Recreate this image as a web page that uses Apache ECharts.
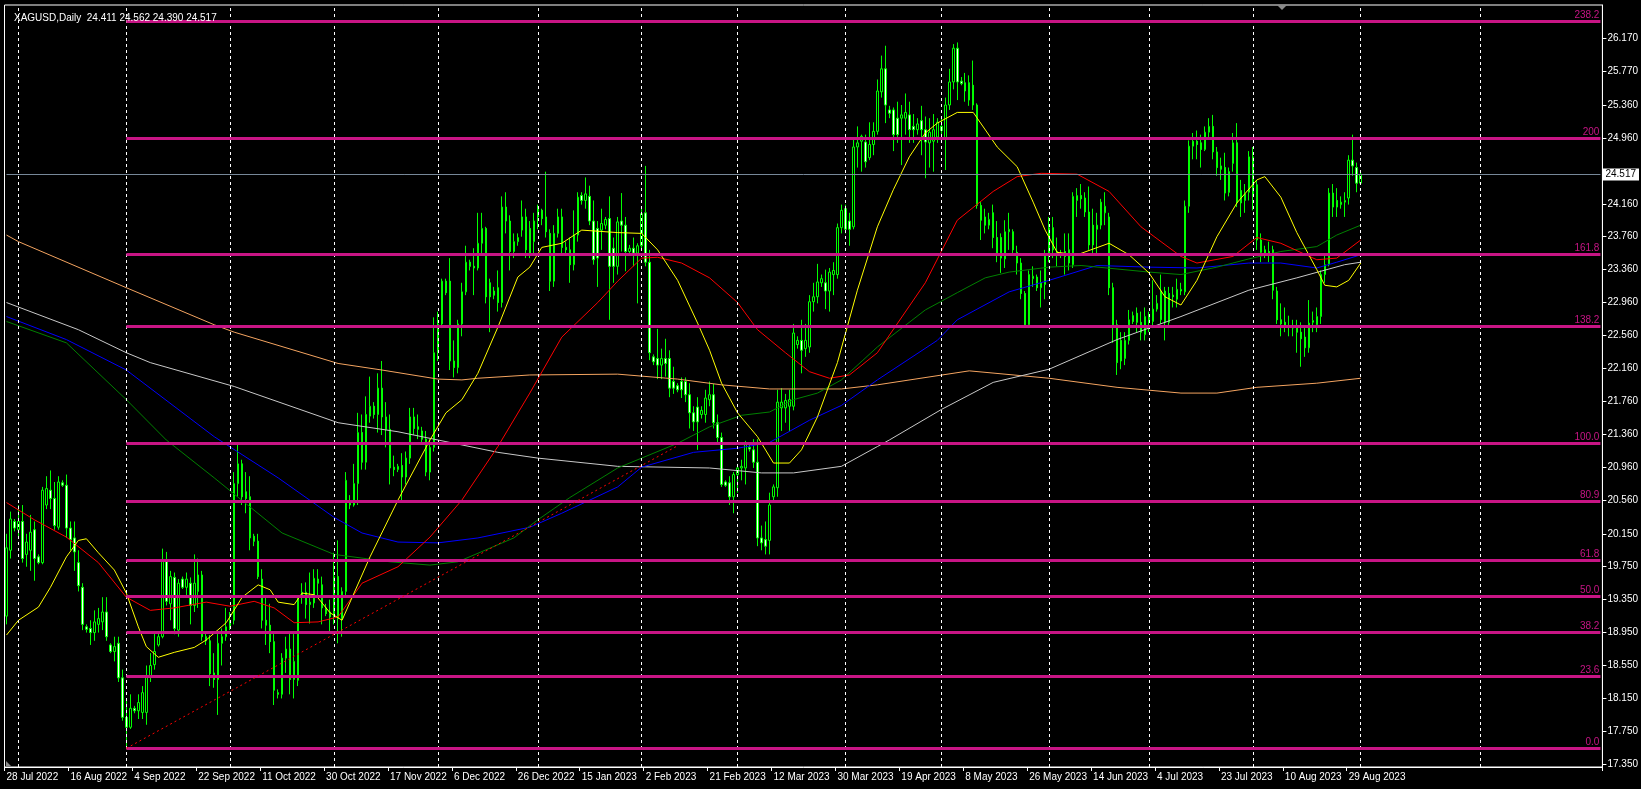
<!DOCTYPE html>
<html>
<head>
<meta charset="utf-8">
<title>XAGUSD,Daily</title>
<script src="https://cdn.jsdelivr.net/npm/echarts@6/dist/echarts.min.js"></script>
<style>
  html, body { margin: 0; padding: 0; background: #000; }
  #chart { width: 1641px; height: 789px; }
</style>
</head>
<body>
<div id="chart"></div>
<script>
// daily bars, [open, high, low, close], one per trading day (Sunday bars included)
const candles = [
  [19.15,20.15,19.05,19.98],[19.95,20.42,19.85,20.33],[20.30,20.33,20.18,20.22],[20.20,20.50,20.10,20.30],
  [20.30,20.50,19.80,19.85],[19.90,20.15,19.75,20.05],[19.95,20.38,19.70,20.17],[20.20,20.30,19.58,19.85],
  [19.87,19.90,19.78,19.80],[19.80,20.72,19.78,20.68],[20.50,20.85,20.45,20.70],[20.68,20.92,20.45,20.58],
  [20.58,20.78,20.20,20.25],[20.23,20.85,20.20,20.78],[20.77,20.80,20.72,20.74],[20.74,20.87,20.10,20.22],
  [20.22,20.30,19.95,20.08],[20.10,20.30,19.70,19.93],[19.80,19.95,19.45,19.52],[19.50,19.55,18.98,19.05],
  [19.02,19.05,18.95,18.99],[19.00,19.10,18.80,18.95],[18.95,19.22,18.85,19.08],[19.05,19.25,18.95,19.12],
  [19.08,19.38,18.98,19.20],[19.20,19.38,18.85,18.90],[18.80,18.82,18.70,18.72],[18.72,18.90,18.60,18.78],
  [18.82,18.90,18.35,18.40],[18.40,18.50,17.88,17.92],[17.92,18.15,17.545,17.80],[17.80,18.20,17.78,18.03],
  [18.03,18.06,17.97,18.00],[18.00,18.20,17.90,18.10],[17.98,18.30,17.90,18.22],[17.98,18.55,17.83,18.42],
  [18.42,18.70,18.35,18.55],[18.56,18.95,18.50,18.72],[18.80,18.95,18.78,18.90],[18.90,19.97,18.88,19.83],
  [19.83,19.93,19.28,19.33],[19.30,19.70,19.10,19.63],[19.62,19.68,18.93,19.00],[18.98,19.60,18.90,19.55],
  [19.60,19.63,19.48,19.50],[19.50,19.68,19.40,19.60],[19.55,19.62,19.05,19.28],[19.28,19.90,19.20,19.55],
  [19.45,19.85,19.25,19.65],[19.65,19.70,18.85,18.90],[18.90,18.95,18.80,18.85],[18.85,18.92,18.30,18.45],
  [18.46,18.70,18.28,18.38],[18.38,18.94,17.95,18.82],[18.82,19.00,18.55,18.90],[18.90,19.25,18.85,19.02],
  [19.00,19.20,18.98,19.10],[19.10,20.90,19.05,20.76],[20.76,21.25,20.60,21.00],[21.00,21.05,20.50,20.60],
  [20.66,20.90,20.40,20.58],[20.60,20.85,19.95,20.10],[20.12,20.15,20.00,20.06],[20.06,20.15,19.60,19.63],
  [19.60,19.72,19.00,19.10],[19.10,19.40,18.80,19.04],[19.04,19.30,18.70,18.84],[18.84,18.94,18.07,18.25],
  [18.22,18.26,18.15,18.20],[18.20,18.70,18.15,18.64],[18.64,18.90,18.46,18.75],[18.75,18.95,18.20,18.38],
  [18.38,18.95,18.15,18.60],[18.37,19.40,18.30,19.37],[19.40,19.55,19.30,19.44],[19.44,19.56,19.12,19.29],
  [19.29,19.68,19.06,19.32],[19.31,19.72,19.25,19.61],[19.60,19.72,19.40,19.55],[19.53,19.63,19.05,19.25],
  [19.25,19.30,19.15,19.18],[19.20,19.35,18.95,19.14],[19.14,19.92,19.05,19.63],[19.63,20.07,18.82,19.12],
  [19.12,19.50,18.90,19.45],[19.45,20.90,19.40,20.80],[20.55,20.62,20.45,20.50],[20.50,21.00,20.48,20.76],
  [20.76,21.62,20.50,21.38],[21.38,21.60,20.93,21.02],[21.02,21.82,20.93,21.60],[21.58,22.06,21.50,21.70],
  [21.70,21.75,21.55,21.60],[21.60,22.10,21.38,21.92],[21.92,22.25,21.35,21.57],[21.57,21.75,21.20,21.42],
  [21.42,21.60,20.75,20.95],[20.96,21.10,20.85,20.93],[20.93,21.00,20.90,20.97],[20.98,21.13,20.56,20.84],
  [20.84,21.15,20.75,21.07],[21.07,21.68,21.00,21.57],[21.57,21.68,21.35,21.43],[21.45,21.60,21.30,21.42],
  [21.40,21.45,21.25,21.30],[21.30,21.40,20.85,20.90],[20.90,21.30,20.80,21.20],[21.20,22.78,21.15,22.35],
  [22.35,22.85,22.25,22.70],[22.70,23.25,22.65,23.22],[23.22,23.25,23.05,23.08],[23.22,23.50,22.14,22.25],
  [22.25,22.50,22.05,22.17],[22.17,22.75,22.10,22.70],[22.70,23.20,22.55,23.09],[23.09,23.65,23.05,23.45],
  [23.45,23.48,23.35,23.40],[23.40,23.62,23.05,23.38],[23.38,24.05,23.35,23.68],[23.68,24.05,23.55,23.86],
  [23.86,23.88,22.95,23.03],[23.20,23.25,22.60,23.03],[23.10,23.15,23.00,23.05],[23.14,23.35,22.85,22.96],
  [22.96,24.25,22.90,24.12],[24.12,24.30,23.80,23.95],[23.95,24.02,23.35,23.58],[23.58,23.80,23.50,23.70],
  [23.70,23.80,23.65,23.75],[23.84,24.20,23.76,24.00],[24.00,24.10,23.50,23.60],[23.86,23.95,23.50,23.55],
  [23.70,24.05,23.55,23.95],[24.10,24.15,23.85,24.00],[24.08,24.10,23.90,23.98],[24.00,24.55,23.75,23.82],
  [23.80,23.85,23.10,23.22],[23.22,23.90,23.15,23.80],[23.80,24.10,23.75,24.00],[24.00,24.10,23.55,23.63],
  [23.63,23.70,23.55,23.60],[23.60,23.75,23.20,23.42],[23.42,24.08,23.35,23.78],[23.78,24.30,23.70,24.24],
  [24.26,24.30,24.15,24.20],[24.20,24.48,24.10,24.28],[24.25,24.38,23.90,23.95],[23.95,24.20,23.42,23.48],
  [23.86,23.95,23.15,23.50],[23.84,24.10,23.60,23.92],[23.90,24.00,23.85,23.97],[23.98,24.25,22.75,23.40],
  [23.62,23.75,23.20,23.40],[23.40,24.00,23.30,23.94],[23.95,24.29,23.58,23.90],[23.90,24.00,23.34,23.58],
  [23.58,23.66,23.55,23.62],[23.62,23.75,23.40,23.56],[23.56,23.68,22.95,23.65],[23.65,24.10,23.60,24.04],
  [24.05,24.62,23.40,23.45],[23.45,23.60,22.26,22.35],[22.30,22.33,22.20,22.24],[22.28,22.64,22.03,22.20],
  [22.20,22.40,22.03,22.28],[22.28,22.52,22.06,22.22],[22.28,22.38,21.81,21.92],[22.00,22.18,21.85,21.92],
  [21.95,21.98,21.87,21.90],[22.00,22.05,21.80,21.90],[22.00,22.05,21.75,21.84],[21.84,21.98,21.43,21.62],
  [21.62,21.70,21.40,21.51],[21.69,21.81,21.17,21.51],[21.60,21.70,21.55,21.65],[21.60,21.90,21.50,21.80],
  [21.78,22.00,21.70,21.84],[21.84,21.97,21.43,21.50],[21.50,21.60,21.25,21.32],[21.32,21.38,20.72,20.75],
  [20.78,20.80,20.72,20.74],[20.77,20.85,20.50,20.60],[20.60,20.90,20.40,20.87],[20.87,21.00,20.65,20.95],
  [20.95,21.05,20.80,20.97],[20.95,21.28,20.75,21.25],[21.20,21.25,21.15,21.18],[21.17,21.30,20.95,21.02],
  [21.02,21.30,20.00,20.10],[20.10,20.25,19.95,20.04],[20.08,20.30,19.90,20.00],[20.07,20.65,19.90,20.50],
  [20.60,20.75,20.55,20.72],[20.71,21.90,20.60,21.75],[21.68,21.92,21.40,21.75],[21.68,21.85,21.50,21.77],
  [21.70,21.90,21.40,21.78],[21.70,22.70,21.65,22.59],[22.45,22.55,22.40,22.50],[22.50,22.75,22.10,22.38],
  [22.40,22.70,22.30,22.50],[22.42,23.05,22.35,22.97],[22.97,23.20,22.85,23.03],[23.03,23.43,22.95,23.21],
  [23.20,23.30,23.15,23.25],[23.20,23.36,22.88,23.10],[23.10,23.38,22.85,23.33],[23.30,23.45,23.05,23.35],
  [23.30,23.92,23.25,23.87],[23.87,24.15,23.80,24.08],[24.10,24.15,23.80,23.85],[23.95,24.05,23.65,23.85],
  [23.88,24.95,23.85,24.85],[24.85,25.10,24.60,24.90],[24.92,25.00,24.55,24.98],[24.91,25.00,24.60,24.67],
  [24.72,25.15,24.69,24.88],[24.88,25.15,24.75,25.04],[25.04,25.67,25.00,25.53],[25.52,25.96,25.45,25.80],
  [25.80,26.08,25.14,25.36],[25.30,25.35,25.20,25.26],[25.30,25.33,24.80,25.00],[25.20,25.40,24.90,25.00],
  [25.20,25.36,24.63,25.24],[25.20,25.50,25.00,25.27],[25.24,25.40,24.90,25.06],[25.10,25.25,24.90,25.06],
  [25.06,25.20,25.00,25.13],[25.17,25.35,24.75,25.06],[25.06,25.22,24.47,24.91],[24.90,25.20,24.60,25.03],
  [24.92,25.25,24.55,25.06],[24.97,25.20,24.90,25.15],[25.10,25.20,24.90,25.05],[24.96,25.45,24.57,25.36],
  [25.36,25.80,25.30,25.64],[25.64,26.10,25.55,26.05],[26.05,26.12,25.42,25.64],[25.65,25.70,25.60,25.62],
  [25.63,25.75,25.40,25.53],[25.63,25.72,25.35,25.42],[25.60,25.90,25.30,25.36],[25.36,25.38,24.10,24.14],
  [24.14,24.18,23.72,23.96],[24.00,24.10,23.80,23.90],[23.90,24.05,23.85,23.97],[24.05,24.15,23.62,23.75],
  [23.75,23.95,23.45,23.55],[23.75,23.80,23.32,23.50],[23.49,23.96,23.38,23.82],[23.82,24.05,23.60,23.85],
  [23.82,23.85,23.55,23.60],[23.57,23.65,23.30,23.44],[23.44,23.50,23.00,23.07],[23.07,23.10,22.67,22.69],
  [22.69,23.35,22.65,23.30],[23.25,23.40,23.15,23.28],[23.27,23.30,23.10,23.14],[23.14,23.35,22.90,23.20],
  [23.18,23.60,23.00,23.54],[23.54,24.00,23.45,23.87],[23.87,24.00,23.50,23.60],[23.58,23.75,23.40,23.56],
  [23.56,23.60,23.50,23.54],[23.58,23.80,23.30,23.52],[23.60,23.80,23.35,23.44],[23.42,24.30,23.38,24.25],
  [24.20,24.35,24.00,24.26],[24.26,24.40,24.10,24.22],[24.23,24.30,24.00,24.06],[24.06,24.37,23.60,23.66],
  [23.90,24.10,23.55,23.66],[23.85,24.05,23.55,23.90],[23.90,24.22,23.85,24.18],[24.05,24.30,23.90,24.13],
  [24.00,24.05,23.05,23.14],[23.14,23.20,22.47,22.69],[22.69,22.75,22.08,22.23],[22.50,22.60,22.15,22.25],
  [22.28,22.60,22.20,22.50],[22.50,22.87,22.45,22.75],[22.80,22.85,22.70,22.73],[22.83,22.90,22.60,22.72],
  [22.72,22.85,22.50,22.60],[22.57,22.90,22.50,22.79],[22.78,22.85,22.60,22.75],[22.73,23.23,22.65,22.88],
  [22.88,23.05,22.85,22.95],[22.75,23.30,22.70,23.10],[23.10,23.15,22.50,22.72],[23.07,23.15,22.65,22.72],
  [23.05,23.15,22.90,23.03],[23.00,23.25,22.90,23.12],[23.10,23.20,23.05,23.12],[23.09,24.20,23.05,24.13],
  [24.13,24.93,24.05,24.86],[24.86,25.02,24.70,24.92],[24.92,25.05,24.70,24.88],[24.90,25.00,24.60,24.82],
  [24.82,25.10,24.80,25.03],[25.03,25.20,24.95,25.10],[25.10,25.24,24.70,24.79],[24.79,24.85,24.50,24.60],
  [24.62,24.72,24.45,24.58],[24.60,24.78,24.20,24.29],[24.55,24.60,24.25,24.30],[24.65,25.02,24.55,24.90],
  [24.90,25.14,24.12,24.17],[24.32,24.45,24.00,24.17],[24.20,24.40,24.05,24.28],[24.30,24.80,24.20,24.73],
  [24.73,24.85,24.08,24.25],[24.39,24.45,23.60,23.72],[23.72,23.80,23.45,23.57],[23.60,23.65,23.50,23.56],
  [23.58,23.70,23.45,23.56],[23.60,23.65,23.00,23.11],[23.10,23.15,22.70,22.75],[22.75,22.95,22.55,22.70],
  [22.72,22.90,22.60,22.66],[22.68,22.80,22.55,22.66],[22.68,22.75,22.55,22.65],[22.67,22.75,22.35,22.60],
  [22.60,22.72,22.18,22.52],[22.54,22.65,22.30,22.41],[22.41,22.99,22.35,22.71],[22.72,22.85,22.60,22.74],
  [22.69,22.90,22.60,22.79],[22.79,23.35,22.70,23.30],[23.30,23.55,23.20,23.42],[23.42,24.35,23.40,24.29],
  [24.29,24.40,24.00,24.12],[24.20,24.35,24.00,24.12],[24.15,24.25,24.10,24.18],[24.18,24.30,24.00,24.20],
  [24.23,24.75,24.15,24.69],[24.69,25.00,24.50,24.62],[24.60,24.66,24.30,24.41],[24.411,24.562,24.390,24.517]
];

// moving averages: [bar index, price]
const maYellow = [[0,18.92],[3,19.10],[8,19.26],[11,19.50],[15,19.87],[18,20.07],[20,20.09],[23,19.92],[27,19.71],
  [30,19.43],[33,19.02],[35,18.78],[38,18.65],[42,18.71],[47,18.77],[50,18.86],[55,19.07],[59,19.38],[63,19.53],
  [66,19.47],[68,19.32],[72,19.29],[74,19.43],[77,19.41],[78,19.37],[81,19.19],[84,19.10],[91,19.87],[98,20.56],
  [106,21.29],[110,21.62],[114,21.78],[118,22.10],[123,22.66],[128,23.27],[131,23.39],[134,23.63],[139,23.68],
  [144,23.84],[153,23.81],[159,23.80],[163,23.60],[168,23.23],[173,22.71],[176,22.38],[179,21.98],[183,21.62],
  [188,21.33],[192,21.01],[196,21.01],[199,21.17],[203,21.57],[208,22.23],[213,23.11],[218,23.88],[222,24.33],
  [226,24.73],[230,25.02],[233,25.14],[238,25.27],[242,25.27],[243,25.20],[248,24.85],[253,24.61],[257,24.18],
  [260,23.84],[263,23.57],[268,23.54],[276,23.68],[281,23.54],[286,23.32],[290,23.03],[294,22.93],[298,23.23],
  [303,23.76],[308,24.17],[313,24.45],[315,24.49],[319,24.24],[323,23.81],[328,23.36],[330,23.17],[333,23.15],
  [336,23.23],[339,23.44]];
const maRed = [[0,20.53],[7,20.32],[15,20.11],[23,19.80],[30,19.38],[36,19.22],[42,19.25],[50,19.32],[56,19.27],
  [62,19.33],[67,19.25],[72,19.07],[78,19.08],[83,19.14],[89,19.55],[98,19.75],[106,20.11],[114,20.56],[123,21.21],
  [131,21.86],[139,22.54],[148,22.96],[153,23.22],[159,23.50],[163,23.51],[169,23.44],[176,23.26],[183,22.96],
  [188,22.63],[195,22.35],[201,22.12],[206,22.04],[211,22.08],[218,22.35],[230,23.20],[238,23.96],[247,24.31],
  [253,24.49],[259,24.53],[268,24.52],[276,24.31],[284,23.88],[294,23.52],[298,23.44],[307,23.52],[313,23.75],
  [319,23.68],[328,23.48],[333,23.50],[339,23.72]];
const maGreen = [[0,22.73],[15,22.47],[30,21.78],[40,21.29],[52,20.83],[69,20.16],[82,19.90],[96,19.81],[106,19.77],
  [113,19.81],[127,20.10],[133,20.32],[141,20.59],[153,20.95],[159,21.07],[168,21.25],[176,21.45],[184,21.59],
  [191,21.63],[197,21.78],[203,21.86],[209,22.02],[218,22.42],[230,22.87],[238,23.08],[245,23.26],[251,23.33],
  [261,23.39],[269,23.41],[286,23.33],[294,23.30],[303,23.39],[311,23.49],[319,23.58],[328,23.64],[333,23.78],
  [339,23.90]];
const maBlue = [[0,22.79],[15,22.51],[30,22.14],[52,21.33],[68,20.83],[82,20.35],[89,20.16],[98,20.05],[108,20.04],
  [118,20.10],[131,20.23],[139,20.40],[153,20.72],[159,20.96],[172,21.14],[183,21.19],[191,21.26],[201,21.53],
  [209,21.71],[218,22.02],[233,22.50],[238,22.75],[251,23.09],[261,23.23],[273,23.41],[286,23.39],[298,23.38],
  [311,23.44],[319,23.44],[328,23.38],[333,23.45],[339,23.54]];
const maSilver = [[0,22.96],[18,22.63],[30,22.35],[36,22.23],[57,21.94],[83,21.50],[98,21.39],[110,21.27],
  [123,21.14],[133,21.07],[153,20.97],[176,20.95],[189,20.89],[197,20.89],[209,20.97],[218,21.21],[221,21.29],
  [234,21.66],[247,21.99],[261,22.15],[278,22.51],[294,22.79],[311,23.11],[323,23.26],[335,23.42],[339,23.45]];
const maOrange = [[0,23.78],[3,23.70],[30,23.14],[52,22.69],[57,22.60],[83,22.22],[94,22.14],[108,22.03],
  [114,22.02],[118,22.04],[131,22.08],[153,22.09],[168,22.03],[179,21.96],[191,21.91],[209,21.91],[218,21.96],
  [241,22.13],[261,22.04],[278,21.93],[294,21.86],[303,21.86],[313,21.93],[328,21.98],[339,22.04]];

// fibonacci levels drawn from the 1 Sep 2022 low
const fibLevels = ['0.0', '23.6', '38.2', '50.0', '61.8', '80.9', '100.0', '138.2', '161.8', '200', '238.2'];
const fibPrices = [17.544, 18.419, 18.960, 19.397, 19.834, 20.542, 21.250, 22.666, 23.541, 24.956, 26.372];
const fibStartBar = 30;

// red dotted trend line [bar, price]
const trendLine = [[30, 17.544], [168, 21.22]];

// axis text
const xLabels = ['28 Jul 2022', '16 Aug 2022', '4 Sep 2022', '22 Sep 2022', '11 Oct 2022', '30 Oct 2022',
  '17 Nov 2022', '6 Dec 2022', '26 Dec 2022', '15 Jan 2023', '2 Feb 2023', '21 Feb 2023', '12 Mar 2023',
  '30 Mar 2023', '19 Apr 2023', '8 May 2023', '26 May 2023', '14 Jun 2023', '4 Jul 2023', '23 Jul 2023',
  '10 Aug 2023', '29 Aug 2023'];
const yTicks = [17.35, 17.75, 18.15, 18.55, 18.95, 19.35, 19.75, 20.15, 20.56, 20.96, 21.36, 21.76, 22.16,
  22.56, 22.96, 23.36, 23.76, 24.16, 24.96, 25.36, 25.77, 26.17];
const gridBars = [3, 30, 56, 82, 108, 133, 159, 183, 210, 234, 261, 286, 312, 339, 369];
const lastPrice = 24.517;
const title = 'XAGUSD,Daily  24.411 24.562 24.390 24.517';

const totalBars = 400;
const labelStep = 16;

const categories = [];
for (let i = 0; i < totalBars; i++) {
  categories.push(i % labelStep === 0 && i / labelStep < xLabels.length ? xLabels[i / labelStep] : '');
}
// echarts wants [open, close, low, high]
const ohlc = candles.map(c => [c[0], c[3], c[2], c[1]]);

const chart = echarts.init(document.getElementById('chart'), null, { renderer: 'canvas' });
const font = 'Liberation Sans, Arial, sans-serif';
const showLabel = (idx, val) => val !== '';
const maLine = (data, color) => ({
  type: 'line', data: data, symbol: 'none', silent: true, z: 3,
  lineStyle: { color: color, width: 1 }
});

const option = {
  backgroundColor: '#000',
  animation: false,
  title: {
    text: title, left: 9, top: 8,
    textStyle: { color: '#fff', fontSize: 10, fontWeight: 'normal', fontFamily: font }
  },
  grid: { left: 4.5, top: 5, width: 1598.5, height: 762, show: true, borderColor: '#fff', borderWidth: 1 },
  xAxis: {
    type: 'category', data: categories, boundaryGap: true,
    axisLine: { lineStyle: { color: '#fff', width: 1 } },
    axisTick: { show: true, interval: showLabel, length: 4, lineStyle: { color: '#fff' } },
    axisLabel: { interval: showLabel, color: '#fff', fontSize: 10, fontFamily: font, align: 'left', margin: 5 },
    splitLine: { show: false }
  },
  yAxis: {
    type: 'value', position: 'right', min: 17.317, max: 26.575,
    axisLine: { show: true, lineStyle: { color: '#fff', width: 1 } },
    axisTick: { show: true, customValues: yTicks, length: 4, lineStyle: { color: '#fff' } },
    axisLabel: { customValues: yTicks, formatter: v => v.toFixed(3), color: '#fff', fontSize: 10, fontFamily: font, margin: 5 },
    splitLine: { show: false }
  },
  series: [
    {
      // vertical dashed grid
      type: 'line', data: [], z: 1, silent: true,
      markLine: {
        symbol: ['none', 'none'], silent: true, animation: false,
        label: { show: false },
        lineStyle: { color: '#fff', type: [3, 3], width: 1 },
        data: gridBars.map(b => ({ xAxis: b }))
      }
    },
    {
      type: 'candlestick', data: ohlc, barWidth: 2, z: 2, silent: true,
      itemStyle: {
        color: '#000', color0: '#fff',
        borderColor: '#00ff00', borderColor0: '#00ff00', borderColorDoji: '#00ff00', borderWidth: 1
      }
    },
    maLine(maOrange, '#f4a460'),
    maLine(maSilver, '#c8c8c8'),
    maLine(maBlue, '#0000ff'),
    maLine(maGreen, '#008000'),
    maLine(maRed, '#ff0000'),
    maLine(maYellow, '#ffff00'),
    {
      // fibonacci, trend line, last price
      type: 'line', data: [], z: 4, silent: true,
      markLine: {
        symbol: ['none', 'none'], silent: true, animation: false,
        data: fibPrices.map((p, k) => [
          {
            coord: [fibStartBar, p],
            lineStyle: { color: '#c71585', width: 3, type: 'solid' },
            label: {
              show: true, position: 'insideEndTop', formatter: fibLevels[k], distance: [1, 1],
              color: '#c71585', fontSize: 10, fontFamily: font
            }
          },
          { coord: [totalBars - 1, p] }
        ]).concat([
          [
            { coord: trendLine[0], lineStyle: { color: '#ff0000', width: 1, type: [2, 3] }, label: { show: false } },
            { coord: trendLine[1] }
          ],
          [
            {
              coord: [0, lastPrice], lineStyle: { color: '#778899', width: 1, type: 'solid' },
              label: {
                show: true, position: 'end', formatter: lastPrice.toFixed(3), distance: 2,
                backgroundColor: '#fff', color: '#000', fontSize: 10, fontFamily: font, padding: [1, 3, 1, 3]
              }
            },
            { coord: [totalBars - 1, lastPrice] }
          ]
        ])
      }
    }
  ],
  graphic: [
    { type: 'polygon', shape: { points: [[1277, 5], [1287, 5], [1282, 10]] }, style: { fill: '#8a8a8a' }, silent: true },
    { type: 'polygon', shape: { points: [[6, 761], [6, 766], [11, 766]] }, style: { fill: '#8a8a8a' }, silent: true }
  ]
};

option && chart.setOption(option);
</script>
</body>
</html>
